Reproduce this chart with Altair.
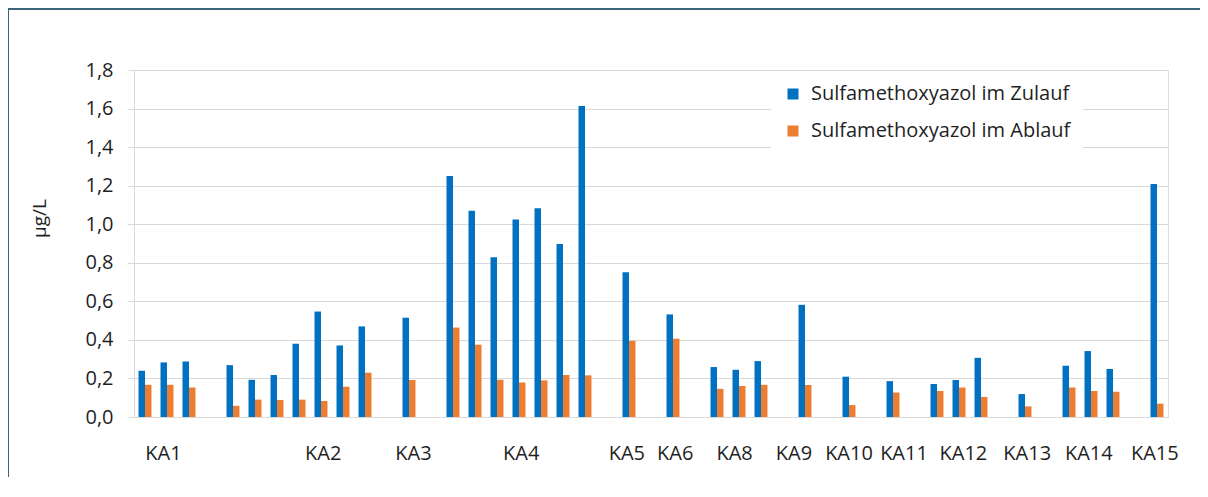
import altair as alt
import pandas as pd

# Per-slot values (None = empty slot in the category axis)
zulauf = [0.24, 0.283, 0.288, None, 0.269, 0.193, 0.218, 0.38, 0.547, 0.371, 0.47, None,
          0.515, None, 1.25, 1.07, 0.829, 1.024, 1.083, 0.898, 1.613, None, 0.751, None,
          0.532, None, 0.259, 0.245, 0.29, None, 0.582, None, 0.209, None, 0.186, None,
          0.171, 0.192, 0.307, None, 0.119, None, 0.266, 0.342, 0.249, None, 1.209]
ablauf = [0.167, 0.167, 0.153, None, 0.058, 0.09, 0.088, 0.09, 0.083, 0.157, 0.23, None,
          0.192, None, 0.464, 0.375, 0.193, 0.179, 0.19, 0.218, 0.216, None, 0.395, None,
          0.406, None, 0.146, 0.161, 0.167, None, 0.166, None, 0.062, None, 0.127, None,
          0.135, 0.153, 0.104, None, 0.055, None, 0.153, 0.135, 0.131, None, 0.069]
# category label positions, in slot units along the axis
label_pos = [1.34, 8.6, 12.7, 17.6, 22.4, 24.6, 27.3, 30.0, 32.5, 35.0, 37.7, 40.6, 43.4, 46.4]
label_names = ["KA1", "KA2", "KA3", "KA4", "KA5", "KA6", "KA8", "KA9", "KA10", "KA11",
               "KA12", "KA13", "KA14", "KA15"]
series_names = ["Sulfamethoxyazol im Zulauf", "Sulfamethoxyazol im Ablauf"]
y_ticks = [0.0, 0.2, 0.4, 0.6, 0.8, 1.0, 1.2, 1.4, 1.6, 1.8]

rows = []
for i, (z, a) in enumerate(zip(zulauf, ablauf)):
    if z is not None:
        rows.append({"slot": i, "series": series_names[0], "value": z})
    if a is not None:
        rows.append({"slot": i, "series": series_names[1], "value": a})
df = pd.DataFrame(rows)
labels_df = pd.DataFrame({"pos": label_pos, "name": label_names})

slots = list(range(len(zulauf)))

FONT = "Open Sans"
FS = 20
TXT = "#1f1f1f"
W, H = 1034, 347

bars = alt.Chart(df).mark_bar().encode(
    x=alt.X("slot:O", scale=alt.Scale(domain=slots, paddingInner=0.41, paddingOuter=0.205),
            axis=alt.Axis(title=None, labels=False, ticks=False,
                          domainColor="#d9d9d9", grid=False)),
    xOffset=alt.XOffset("series:N", sort=series_names),
    y=alt.Y("value:Q", scale=alt.Scale(domain=[0, 1.8], nice=False),
            axis=alt.Axis(title="µg/L", values=y_ticks,
                          labelExpr="replace(format(datum.value, '.1f'), '.', ',')",
                          labelFontSize=FS, labelFont=FONT, labelColor=TXT,
                          labelPadding=14, tickSize=7, tickColor="#d9d9d9",
                          domainColor="#d9d9d9", gridColor="#d9d9d9",
                          titleFont=FONT, titleFontSize=FS - 1, titleFontWeight="normal",
                          titleColor=TXT, titleX=-85, titleY=148, titleAngle=-90,
                          titleBaseline="bottom")),
    color=alt.Color("series:N", sort=series_names,
                    scale=alt.Scale(domain=series_names, range=["#0070C0", "#ED7D31"]),
                    legend=alt.Legend(title=None, orient="none", legendX=637, legendY=2,
                                      fillColor="white", padding=12, symbolType="square",
                                      symbolSize=121, symbolStrokeWidth=0, labelLimit=500,
                                      labelFont=FONT, labelFontSize=FS,
                                      labelColor=TXT, rowPadding=17, labelOffset=8)),
)

cat_labels = alt.Chart(labels_df).mark_text(
    font=FONT, fontSize=FS, color=TXT, baseline="alphabetic", align="center"
).encode(
    x=alt.X("pos:Q", scale=alt.Scale(domain=[0, len(slots)], nice=False, zero=False),
            axis=None),
    y=alt.value(H + 43),
    text="name:N",
)

frame_top = alt.Chart(alt.Data(values=[{"f": 1}])).mark_rule(
    stroke="#3c6478", strokeWidth=2
).encode(x=alt.value(-127), x2=alt.value(W + 80), y=alt.value(-61))
frame_left = alt.Chart(alt.Data(values=[{"f": 1}])).mark_rule(
    stroke="#3c6478", strokeWidth=2
).encode(x=alt.value(-126), y=alt.value(-62), y2=alt.value(H + 150))

chart = alt.layer(bars, cat_labels, frame_top, frame_left).resolve_scale(
    x="independent"
).properties(
    width=W, height=H,
    autosize=alt.AutoSizeParams(type="none"),
    padding={"left": 126, "top": 62, "right": 32, "bottom": 60},
).configure_view(stroke=None).configure(background="white")

chart.save("out.html", embed_options={"renderer": "svg", "actions": False})
